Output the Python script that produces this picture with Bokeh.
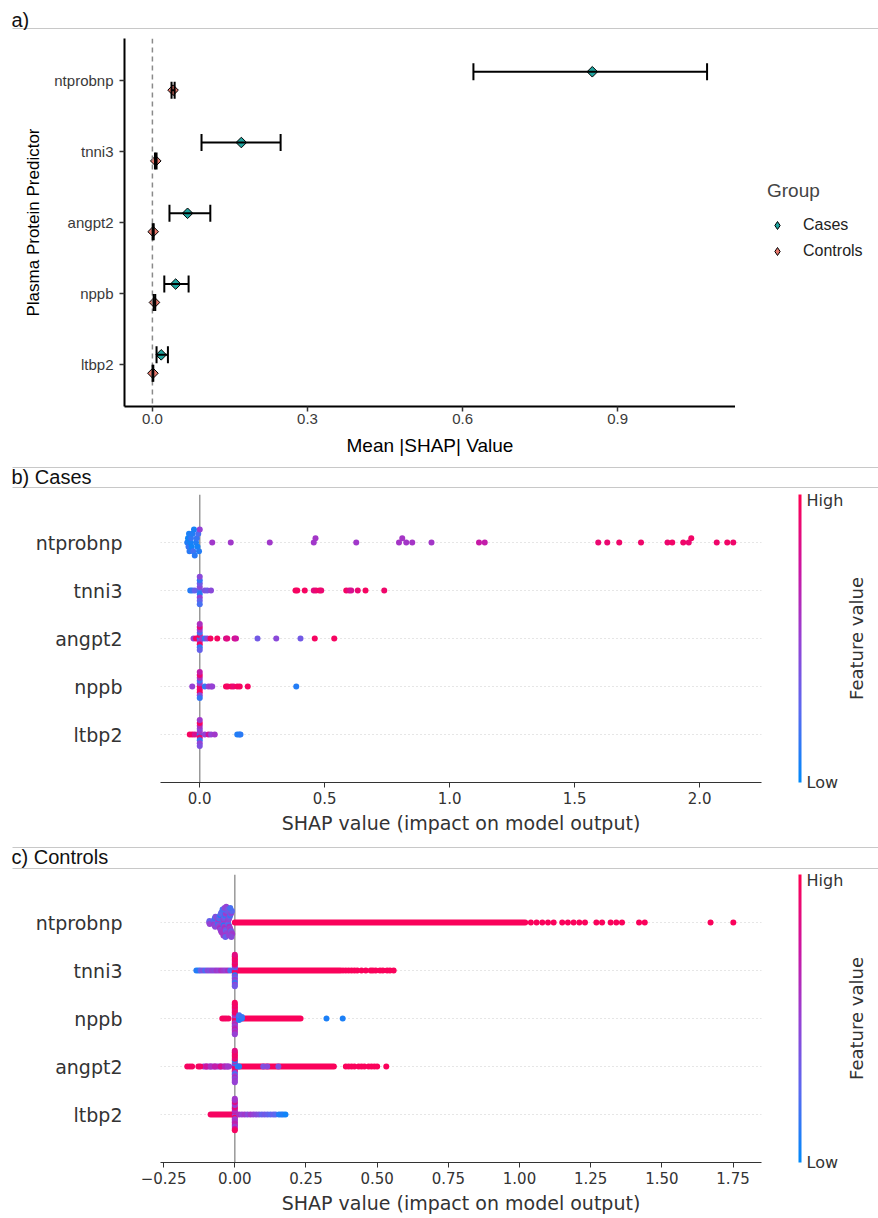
import numpy as np
from bokeh.plotting import figure
from bokeh.layouts import column, row
from bokeh.models import (Range1d, FixedTicker, NumeralTickFormatter, CustomJSTickFormatter,
                          Span, Whisker, TeeHead, ColumnDataSource, Legend, LegendItem,
                          ColorBar, LinearColorMapper)
from bokeh.transform import linear_cmap
from bokeh.core.properties import value
from bokeh.embed import file_html
from bokeh.resources import INLINE

# ---------------- Panel a data (mean |SHAP| with error bars) ----------------
A_FEATURES = ["ntprobnp", "tnni3", "angpt2", "nppb", "ltbp2"]
A_CASES_MEAN = [0.851, 0.172, 0.068, 0.045, 0.017]
A_CASES_LO = [0.621, 0.095, 0.033, 0.023, 0.008]
A_CASES_HI = [1.073, 0.248, 0.112, 0.070, 0.030]
A_CTRL_MEAN = [0.040, 0.0065, 0.0015, 0.004, 0.001]
A_CTRL_LO = [0.037, 0.005, 0.0005, 0.0025, 0.0003]
A_CTRL_HI = [0.043, 0.008, 0.0025, 0.0055, 0.0017]
A_XTICKS = [0.0, 0.3, 0.6, 0.9]
A_GROUPS = ["Cases", "Controls"]

# ---------------- Panel b data (Cases beeswarm) ----------------
B_FEATURES = ["ntprobnp", "tnni3", "angpt2", "nppb", "ltbp2"]
B_NTPROBNP_X = [-0.050, -0.047, -0.045, -0.043, -0.041, -0.038, -0.035, -0.032, -0.029, -0.026,
                -0.023, -0.020, -0.015, -0.012, -0.009, -0.006, -0.003, 0.0, 0.050, 0.124,
                0.280, 0.456, 0.463, 0.626, 0.797, 0.810, 0.826, 0.850, 0.927, 1.117,
                1.140, 1.594, 1.630, 1.678, 1.765, 1.871, 1.890, 1.934, 1.956, 1.966,
                2.068, 2.110, 2.134]
B_NTPROBNP_V = [0.10, 0.05, 0.15, 0.08, 0.12, 0.06, 0.14, 0.05, 0.10, 0.18,
                0.07, 0.12, 0.09, 0.15, 0.06, 0.20, 0.10, 0.50, 0.55, 0.55,
                0.55, 0.55, 0.56, 0.55, 0.57, 0.57, 0.56, 0.57, 0.56, 0.72,
                0.70, 0.90, 0.90, 0.92, 0.92, 0.91, 0.93, 0.92, 0.90, 0.93,
                0.92, 0.93, 0.92]
B_TNNI3_X = [-0.038, -0.030, -0.020, 0.0, 0.0, 0.0, 0.0, 0.0, 0.0, 0.0, 0.0, 0.0,
             0.020, 0.030, 0.045, 0.383, 0.390, 0.420, 0.456, 0.465, 0.479, 0.486,
             0.586, 0.598, 0.606, 0.632, 0.663, 0.738]
B_TNNI3_V = [0.10, 0.15, 0.30, 0.20, 0.45, 0.10, 0.35, 0.50, 0.15, 0.30, 0.45, 0.20,
             0.40, 0.35, 0.45, 0.95, 0.95, 0.95, 0.85, 0.90, 0.95, 0.90,
             0.95, 0.85, 0.80, 0.90, 0.95, 0.92]
B_ANGPT2_X = [-0.025, -0.015, 0.0, 0.0, 0.0, 0.0, 0.0, 0.0, 0.0, 0.0, 0.0, 0.0,
              0.010, 0.020, 0.030, 0.043, 0.070, 0.105, 0.110, 0.139, 0.145, 0.231,
              0.306, 0.403, 0.460, 0.538]
B_ANGPT2_V = [0.50, 0.95, 0.10, 0.90, 0.45, 0.20, 0.95, 0.50, 0.15, 0.85, 0.30, 0.60,
              0.55, 0.15, 0.50, 0.95, 0.95, 0.80, 0.85, 0.80, 0.75, 0.35,
              0.45, 0.35, 0.95, 0.95]
B_NPPB_X = [-0.030, 0.0, 0.0, 0.0, 0.0, 0.0, 0.0, 0.0, 0.0, 0.0, 0.0,
            0.020, 0.035, 0.045, 0.050, 0.105, 0.112, 0.126, 0.135, 0.150, 0.160,
            0.192, 0.386]
B_NPPB_V = [0.50, 0.95, 0.55, 0.90, 0.20, 0.95, 0.60, 0.45, 0.90, 0.15, 0.70,
            0.15, 0.50, 0.55, 0.50, 0.95, 0.95, 0.95, 0.90, 0.95, 0.95,
            0.95, 0.10]
B_LTBP2_X = [-0.040, -0.030, -0.020, 0.0, 0.0, 0.0, 0.0, 0.0, 0.0, 0.0, 0.0, 0.0, 0.0,
             0.020, 0.035, 0.045, 0.060, 0.150, 0.158, 0.163]
B_LTBP2_V = [0.95, 0.95, 0.80, 0.10, 0.55, 0.90, 0.45, 0.15, 0.60, 0.50, 0.95, 0.40, 0.55,
             0.50, 0.75, 0.50, 0.55, 0.10, 0.08, 0.12]
B_XTICKS = [0.0, 0.5, 1.0, 1.5, 2.0]

# ---------------- Panel c data (Controls beeswarm) ----------------
C_FEATURES = ["ntprobnp", "tnni3", "nppb", "angpt2", "ltbp2"]
C_NTPROBNP_X = [-0.090, -0.089, -0.088,
                -0.075, -0.074, -0.073, -0.072, -0.071, -0.070, -0.069, -0.068,
                -0.060, -0.059, -0.058, -0.057, -0.056, -0.055, -0.054, -0.053, -0.052, -0.051,
                -0.050, -0.049, -0.048, -0.047, -0.046,
                -0.043, -0.042, -0.041, -0.040, -0.039, -0.038, -0.037, -0.036, -0.035, -0.034,
                -0.033, -0.032, -0.031, -0.030, -0.029, -0.028, -0.027, -0.043, -0.040, -0.036,
                -0.033, -0.030,
                -0.025, -0.024, -0.023, -0.022, -0.021, -0.020, -0.019, -0.018, -0.017, -0.016,
                -0.015, -0.014, -0.013, -0.012, -0.011, -0.010, -0.009, -0.024, -0.020, -0.016,
                -0.012,
                1.040, 1.060, 1.080, 1.100, 1.120, 1.150, 1.170, 1.190, 1.210, 1.230,
                1.270, 1.290, 1.320, 1.340, 1.360, 1.420, 1.440, 1.671, 1.751]
C_NTPROBNP_V = [0.50, 0.30, 0.50,
                0.45, 0.20, 0.55, 0.35, 0.50, 0.15, 0.45, 0.40,
                0.30, 0.50, 0.15, 0.55, 0.40, 0.20, 0.50, 0.35, 0.60, 0.10,
                0.45, 0.30, 0.50, 0.25, 0.55,
                0.50, 0.20, 0.45, 0.55, 0.10, 0.40, 0.50, 0.30, 0.60, 0.15,
                0.45, 0.50, 0.25, 0.55, 0.40, 0.35, 0.50, 0.20, 0.55, 0.45,
                0.30, 0.50,
                0.40, 0.55, 0.30, 0.50, 0.20, 0.45, 0.60, 0.35, 0.50, 0.15,
                0.55, 0.40, 0.30, 0.50, 0.45, 0.25, 0.55, 0.35, 0.50, 0.20,
                0.45,
                0.97, 0.97, 0.97, 0.97, 0.97, 0.97, 0.97, 0.97, 0.97, 0.97,
                0.97, 0.97, 0.97, 0.97, 0.97, 0.97, 0.97, 0.97, 0.97]
C_TNNI3_X = [-0.135, -0.127, -0.120, -0.112, -0.104, -0.096, -0.088, -0.080, -0.072, -0.064,
             -0.056, -0.048, -0.040, -0.032, -0.024, -0.016,
             0.0, 0.0, 0.0, 0.0, 0.0, 0.0, 0.0, 0.0, 0.0, 0.0, 0.0, 0.0, 0.0, 0.0, 0.0,
             0.0, 0.0, 0.0, 0.0, 0.0, 0.0,
             0.380, 0.390, 0.400, 0.410, 0.420, 0.430, 0.445, 0.460, 0.477, 0.485,
             0.495, 0.510, 0.520, 0.535, 0.545, 0.558]
C_TNNI3_V = [0.10, 0.10, 0.30, 0.40, 0.20, 0.45, 0.40, 0.50, 0.45, 0.55,
             0.50, 0.60, 0.55, 0.50, 0.60, 0.20,
             0.95, 0.50, 0.90, 0.20, 0.95, 0.60, 0.10, 0.90, 0.45, 0.95, 0.30, 0.85, 0.55, 0.95, 0.40,
             0.90, 0.15, 0.95, 0.50, 0.85, 0.35,
             0.97, 0.97, 0.97, 0.97, 0.97, 0.97, 0.97, 0.97, 0.97, 0.97,
             0.97, 0.97, 0.97, 0.97, 0.97, 0.97]
C_NPPB_X = [-0.044, -0.037, -0.030, -0.022,
            0.0, 0.0, 0.0, 0.0, 0.0, 0.0, 0.0, 0.0, 0.0, 0.0, 0.0, 0.0, 0.0, 0.0, 0.0,
            0.0, 0.0, 0.0, 0.0, 0.0, 0.0,
            0.015, 0.015, 0.015, 0.015, 0.025, 0.025, 0.322, 0.379]
C_NPPB_V = [0.95, 0.95, 0.95, 0.95,
            0.95, 0.60, 0.90, 0.50, 0.95, 0.70, 0.55, 0.95, 0.65, 0.90, 0.50, 0.95, 0.60, 0.85, 0.70,
            0.95, 0.55, 0.90, 0.65, 0.95, 0.50,
            0.10, 0.15, 0.10, 0.20, 0.10, 0.15, 0.08, 0.08]
C_ANGPT2_X = [-0.167, -0.158, -0.150, -0.128, -0.121,
              -0.100, -0.085, -0.070, -0.050, -0.035, -0.025,
              0.0, 0.0, 0.0, 0.0, 0.0, 0.0, 0.0, 0.0, 0.0, 0.0, 0.0, 0.0, 0.0, 0.0, 0.0,
              0.0, 0.0, 0.0, 0.0, 0.0, 0.0,
              0.010, 0.015, 0.100, 0.114, 0.153,
              0.390, 0.400, 0.410, 0.420, 0.435, 0.445, 0.455, 0.470, 0.480, 0.490, 0.500, 0.532]
C_ANGPT2_V = [0.95, 0.95, 0.95, 0.95, 0.95,
              0.75, 0.60, 0.70, 0.80, 0.65, 0.55,
              0.95, 0.50, 0.90, 0.15, 0.95, 0.60, 0.90, 0.10, 0.55, 0.95, 0.20, 0.85, 0.50, 0.95, 0.60,
              0.90, 0.45, 0.95, 0.55, 0.85, 0.50,
              0.15, 0.10, 0.40, 0.45, 0.40,
              0.97, 0.97, 0.97, 0.97, 0.97, 0.97, 0.97, 0.97, 0.97, 0.97, 0.97, 0.97]
C_LTBP2_X = [0.0, 0.0, 0.0, 0.0, 0.0, 0.0, 0.0, 0.0, 0.0, 0.0, 0.0, 0.0, 0.0, 0.0, 0.0,
             0.0, 0.0, 0.0, 0.0, 0.0, 0.0,
             0.015, 0.025, 0.035, 0.045, 0.055, 0.065, 0.075, 0.085,
             0.095, 0.105, 0.115, 0.125, 0.135, 0.143, 0.155, 0.163, 0.170, 0.178]
C_LTBP2_V = [0.55, 0.80, 0.50, 0.70, 0.95, 0.60, 0.50, 0.75, 0.55, 0.90, 0.60, 0.50, 0.70, 0.55, 0.65,
             0.85, 0.50, 0.60, 0.75, 0.55, 0.95,
             0.60, 0.50, 0.55, 0.45, 0.55, 0.50, 0.45, 0.40,
             0.30, 0.35, 0.30, 0.25, 0.30, 0.25, 0.10, 0.08, 0.10, 0.05]
# dense stretches of overlapping dots (row, start, end, feature value)
C_BAND_ROW = ["ntprobnp", "tnni3", "nppb", "angpt2", "angpt2", "ltbp2"]
C_BAND_START = [0.0, 0.012, 0.020, -0.110, 0.015, -0.085]
C_BAND_END = [1.020, 0.371, 0.231, -0.020, 0.348, -0.010]
C_BAND_VAL = [0.97, 0.97, 0.97, 0.55, 0.97, 0.95]
C_XTICKS = [-0.25, 0.0, 0.25, 0.5, 0.75, 1.0, 1.25, 1.5, 1.75]

# ---------------- styling ----------------
TEAL = "#1fa39e"
SALMON = "#e5766b"
GG_FONT = "Liberation Sans"
MPL_FONT = "DejaVu Sans"
W = 878
A_MAIN_W = 735        # panel a plot (legend strip to its right)
MAIN_W = 844          # width of the beeswarm figure (colorbar included)
SIDE_W = W - MAIN_W   # strip holding the rotated "Feature value" title


def build_palette(n=256):
    anchors = [(0.0, (0, 138, 250)), (0.25, (90, 105, 240)), (0.5, (150, 65, 212)),
               (0.75, (205, 20, 160)), (1.0, (255, 0, 82))]
    out = []
    for i in range(n):
        t = i / (n - 1)
        for (t0, c0), (t1, c1) in zip(anchors[:-1], anchors[1:]):
            if t <= t1:
                f = (t - t0) / (t1 - t0)
                rgb = [int(round(a + (b - a) * f)) for a, b in zip(c0, c1)]
                break
        out.append("#%02x%02x%02x" % tuple(rgb))
    return out


PALETTE = build_palette()


def no_align(p):
    if "frame_align" in p.properties():
        p.frame_align = False
    return p


def swarm(xs, row_height=0.4, nbins=100):
    """shap-style beeswarm vertical offsets"""
    xs = np.asarray(xs, float)
    lo, hi = xs.min(), xs.max()
    quant = np.round(nbins * (xs - lo) / (hi - lo + 1e-8))
    inds = np.argsort(quant, kind="stable")
    ys = np.zeros(len(xs))
    layer, last = 0, None
    for i in inds:
        if quant[i] != last:
            layer = 0
        ys[i] = np.ceil(layer / 2) * ((layer % 2) * 2 - 1)
        layer += 1
        last = quant[i]
    ys *= 0.9 * (row_height / np.max(ys + 1))
    return ys


def header(text, h, text_y, lines):
    p = figure(width=W, height=h, x_range=Range1d(0, W), y_range=Range1d(h, 0),
               min_border=0, toolbar_location=None, output_backend="svg",
               x_axis_location=None, y_axis_location=None)
    no_align(p)
    p.grid.visible = False
    p.outline_line_color = None
    p.segment(x0=[12] * len(lines), x1=[W] * len(lines), y0=lines, y1=lines,
              line_color="#c8c8c8", line_width=1)
    p.text(x=[11], y=[text_y], text=[text], text_baseline="middle", text_align="left",
           text_font=value(GG_FONT), text_font_size="20px", text_color="#111111")
    return p


# ================= Panel a =================
pa = figure(width=A_MAIN_W, height=430, x_range=Range1d(-0.054, 1.128),
            y_range=Range1d(0.4, 5.6), output_backend="svg", toolbar_location=None,
            min_border_left=124, min_border_right=0, min_border_top=8, min_border_bottom=54)
no_align(pa)
pa.outline_line_color = None
pa.grid.visible = False

row_a = [len(A_FEATURES) - i for i in range(len(A_FEATURES))]
cases_src = ColumnDataSource(dict(x=A_CASES_MEAN, y=[r + 0.13 for r in row_a],
                                  lo=A_CASES_LO, hi=A_CASES_HI))
ctrl_src = ColumnDataSource(dict(x=A_CTRL_MEAN, y=[r - 0.13 for r in row_a],
                                 lo=A_CTRL_LO, hi=A_CTRL_HI))

pa.add_layout(Span(location=0, dimension="height", line_color="#8a8a8a",
                   line_dash="5 4", line_width=1.5))

pa.scatter("x", "y", source=cases_src, marker="square", angle=np.pi / 4, size=7.5,
           fill_color=TEAL, line_color="black", line_width=1)
pa.scatter("x", "y", source=ctrl_src, marker="square", angle=np.pi / 4, size=7.5,
           fill_color=SALMON, line_color="black", line_width=1)
for src in (cases_src, ctrl_src):
    pa.add_layout(Whisker(source=src, base="y", lower="lo", upper="hi", dimension="width",
                          line_color="black", line_width=2, level="annotation",
                          lower_head=TeeHead(size=17, line_width=2, line_color="black"),
                          upper_head=TeeHead(size=17, line_width=2, line_color="black")))

pa.xaxis.ticker = FixedTicker(ticks=A_XTICKS)
pa.xaxis.formatter = NumeralTickFormatter(format="0.0")
pa.xaxis.axis_label = "Mean |SHAP| Value"
pa.xaxis.major_label_standoff = 2
pa.xaxis.axis_label_standoff = 8
pa.yaxis.ticker = FixedTicker(ticks=row_a)
pa.yaxis.major_label_overrides = {r: f for r, f in zip(row_a, A_FEATURES)}
pa.yaxis.axis_label = "Plasma Protein Predictor"
pa.yaxis.major_label_standoff = 6
pa.yaxis.axis_label_standoff = 8
for axs in (pa.xaxis, pa.yaxis):
    axs.axis_line_color = "black"
    axs.axis_line_width = 2
    axs.major_tick_line_color = "#333333"
    axs.major_tick_line_width = 1.5
    axs.major_tick_out = 5
    axs.major_tick_in = 0
    axs.minor_tick_line_color = None
    axs.major_label_text_font = GG_FONT
    axs.major_label_text_font_size = "15px"
    axs.major_label_text_color = "#3a3a3a"
    axs.axis_label_text_font = GG_FONT
    axs.axis_label_text_font_style = "normal"
    axs.axis_label_text_color = "black"
pa.xaxis.axis_label_text_font_size = "19px"
pa.yaxis.axis_label_text_font_size = "17px"

# legend strip for panel a (keys drawn by a Bokeh Legend)
la = figure(width=W - A_MAIN_W, height=430, x_range=Range1d(0, 1), y_range=Range1d(0, 1),
            min_border=0, toolbar_location=None, output_backend="svg",
            x_axis_location=None, y_axis_location=None)
no_align(la)
la.outline_line_color = None
la.grid.visible = False
key_cases = la.scatter(x=[-5], y=[-5], marker="diamond", size=11, fill_color=TEAL,
                       line_color="black", line_width=1)
key_ctrl = la.scatter(x=[-5], y=[-5], marker="diamond", size=11, fill_color=SALMON,
                      line_color="black", line_width=1)
legend = Legend(items=[LegendItem(label=A_GROUPS[0], renderers=[key_cases]),
                       LegendItem(label=A_GROUPS[1], renderers=[key_ctrl])],
                title="Group", location=(32, 199), padding=0, margin=0, spacing=6,
                glyph_width=20, glyph_height=20, label_height=20, label_standoff=16,
                title_standoff=13, border_line_color=None, background_fill_alpha=0)
legend.title_text_font = GG_FONT
legend.title_text_font_size = "19px"
legend.title_text_font_style = "normal"
legend.label_text_font = GG_FONT
legend.label_text_font_size = "16px"
legend.label_text_color = "#222222"
la.add_layout(legend)


# ================= Panels b and c =================
def shap_panel(height, xr, features, rows_x, rows_v, xticks, formatter, bottom,
               bands=None):
    right = MAIN_W - 761
    p = figure(width=MAIN_W, height=height, x_range=Range1d(*xr),
               y_range=Range1d(-1, len(features)),
               output_backend="svg", toolbar_location=None,
               min_border_left=160, min_border_right=right, min_border_top=4,
               min_border_bottom=bottom)
    no_align(p)
    p.outline_line_color = None
    p.grid.visible = False
    nrow = len(features)
    for i in range(nrow):
        p.add_layout(Span(location=nrow - 1 - i, dimension="width", line_color="#cccccc",
                          line_width=1, line_dash="1 3", level="underlay"))
    p.add_layout(Span(location=0, dimension="height", line_color="#999999", line_width=1.5,
                      level="underlay"))
    cmap = linear_cmap("v", PALETTE, 0, 1)
    if bands is not None:
        brow, bs, be, bv = bands
        yb = [nrow - 1 - features.index(r) for r in brow]
        bsrc = ColumnDataSource(dict(x0=bs, x1=be, y=yb, v=bv))
        p.segment("x0", "y", "x1", "y", source=bsrc, line_color=cmap, line_width=6,
                  line_cap="round")
    xs, ys, vs = [], [], []
    for i, f in enumerate(features):
        X = rows_x[f]
        off = swarm(X)
        xs += list(X)
        ys += list(nrow - 1 - i + off)
        vs += list(rows_v[f])
    src = ColumnDataSource(dict(x=xs, y=ys, v=vs))
    p.scatter("x", "y", source=src, size=6, fill_color=cmap, line_color=None)

    p.xaxis.ticker = FixedTicker(ticks=xticks)
    p.xaxis.formatter = formatter
    p.xaxis.axis_label = "SHAP value (impact on model output)"
    p.xaxis.axis_line_color = "#333333"
    p.xaxis.axis_line_width = 1.2
    p.xaxis.major_tick_line_color = "#333333"
    p.xaxis.major_tick_out = 5
    p.xaxis.major_tick_in = 0
    p.xaxis.minor_tick_line_color = None
    p.xaxis.major_label_standoff = 4
    p.xaxis.axis_label_standoff = 5
    p.xaxis.major_label_text_font_size = "15px"
    p.xaxis.axis_label_text_font_size = "19px"
    p.yaxis.ticker = FixedTicker(ticks=list(range(nrow)))
    p.yaxis.major_label_overrides = {nrow - 1 - i: f for i, f in enumerate(features)}
    p.yaxis.axis_line_color = None
    p.yaxis.major_tick_line_color = None
    p.yaxis.minor_tick_line_color = None
    p.yaxis.major_tick_out = 0
    p.yaxis.major_label_standoff = 38
    p.yaxis.major_label_text_font_size = "19px"
    for axs in (p.xaxis, p.yaxis):
        axs.major_label_text_font = MPL_FONT
        axs.major_label_text_color = "#333333"
        axs.axis_label_text_font = MPL_FONT
        axs.axis_label_text_font_style = "normal"
        axs.axis_label_text_color = "#333333"

    frame_w = MAIN_W - 160 - right
    frame_h = height - 4 - bottom
    cb = ColorBar(color_mapper=LinearColorMapper(palette=PALETTE, low=0, high=1),
                  ticker=FixedTicker(ticks=[0, 1]), major_label_overrides={0: "Low", 1: "High"},
                  width=3, height=frame_h, location=(frame_w + 37, 0), padding=0, margin=0,
                  label_standoff=5, major_tick_line_color=None, bar_line_color=None,
                  border_line_color=None, background_fill_alpha=0,
                  major_label_text_font=MPL_FONT, major_label_text_font_size="16px",
                  major_label_text_color="#333333")
    p.add_layout(cb)

    # narrow strip to the right: its left axis carries the rotated colour-bar title
    s = figure(width=SIDE_W, height=height, x_range=Range1d(0, 1), y_range=Range1d(0, 1),
               output_backend="svg", toolbar_location=None,
               min_border_left=SIDE_W - 3, min_border_right=0, min_border_top=4,
               min_border_bottom=bottom, x_axis_location=None)
    no_align(s)
    s.outline_line_color = None
    s.grid.visible = False
    s.yaxis.ticker = FixedTicker(ticks=[])
    s.yaxis.axis_line_color = None
    s.yaxis.major_tick_line_color = None
    s.yaxis.minor_tick_line_color = None
    s.yaxis.major_tick_out = 0
    s.yaxis.minor_tick_out = 0
    s.yaxis.major_label_standoff = 0
    s.yaxis.axis_label = "Feature value"
    s.yaxis.axis_label_standoff = 12
    s.yaxis.axis_label_text_font = MPL_FONT
    s.yaxis.axis_label_text_font_size = "18px"
    s.yaxis.axis_label_text_font_style = "normal"
    s.yaxis.axis_label_text_color = "#333333"
    return row(p, s, spacing=0)


B_ROWS_X = {"ntprobnp": B_NTPROBNP_X, "tnni3": B_TNNI3_X, "angpt2": B_ANGPT2_X,
            "nppb": B_NPPB_X, "ltbp2": B_LTBP2_X}
B_ROWS_V = {"ntprobnp": B_NTPROBNP_V, "tnni3": B_TNNI3_V, "angpt2": B_ANGPT2_V,
            "nppb": B_NPPB_V, "ltbp2": B_LTBP2_V}
C_ROWS_X = {"ntprobnp": C_NTPROBNP_X, "tnni3": C_TNNI3_X, "nppb": C_NPPB_X,
            "angpt2": C_ANGPT2_X, "ltbp2": C_LTBP2_X}
C_ROWS_V = {"ntprobnp": C_NTPROBNP_V, "tnni3": C_TNNI3_V, "nppb": C_NPPB_V,
            "angpt2": C_ANGPT2_V, "ltbp2": C_LTBP2_V}

pb = shap_panel(350, (-0.157, 2.247), B_FEATURES, B_ROWS_X, B_ROWS_V, B_XTICKS,
                NumeralTickFormatter(format="0.0"), 58)
c_fmt = CustomJSTickFormatter(code="return (tick < 0 ? '\u2212' : '') + Math.abs(tick).toFixed(2);")
pc = shap_panel(348, (-0.261, 1.850), C_FEATURES, C_ROWS_X, C_ROWS_V, C_XTICKS, c_fmt, 56,
                bands=(C_BAND_ROW, C_BAND_START, C_BAND_END, C_BAND_VAL))

ha = header("a)", 30, 19, [28])
hb = header("b) Cases", 30, 16, [7, 27])
hc = header("c) Controls", 30, 16, [7, 28])

layout = column(ha, row(pa, la, spacing=0), hb, pb, hc, pc, spacing=0)
open("out.html", "w").write(file_html(layout, INLINE))
